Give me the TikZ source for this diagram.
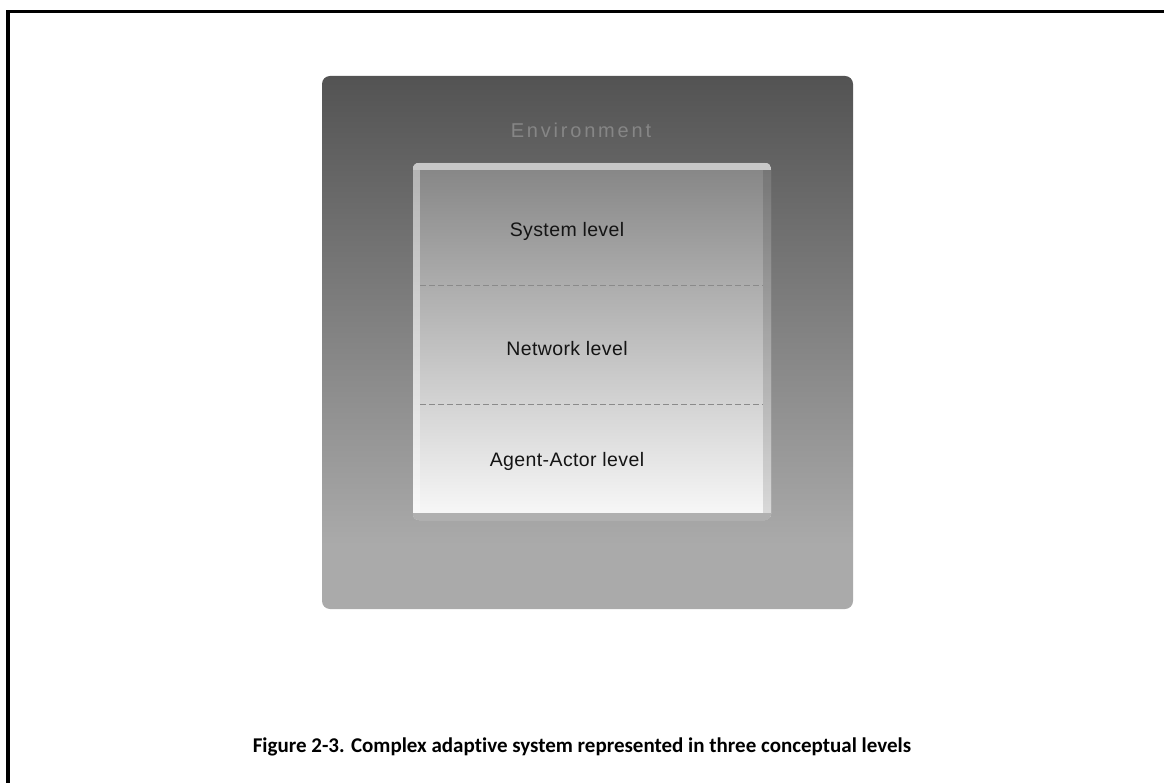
\documentclass[tikz,border=0pt]{standalone}
\usepackage{fontspec}
\setmainfont{Liberation Sans}
\newfontfamily\capfont[Ligatures=NoCommon]{Carlito}

\definecolor{envTop}{HTML}{535353}
\definecolor{envBot}{HTML}{AAAAAA}
\definecolor{lvlTop}{HTML}{858585}
\definecolor{lvlBot}{HTML}{F9F9F9}
\definecolor{envText}{HTML}{868686}
\definecolor{sepLine}{HTML}{8A8A8A}
\definecolor{topRim}{HTML}{C8C8C8}
\definecolor{botRim}{HTML}{B0B0B0}

% vertical shadings: 25bp = bottom edge of the path, 75bp = top edge
\pgfdeclareverticalshading{envshade}{100bp}{color(0bp)=(envBot); color(25bp)=(envBot); color(31bp)=(envBot); color(75bp)=(envTop); color(100bp)=(envTop)}
\pgfdeclareverticalshading{lvlshade}{100bp}{color(0bp)=(lvlBot); color(25bp)=(lvlBot); color(75bp)=(lvlTop); color(100bp)=(lvlTop)}

\tikzset{
  frameline/.style={line width=3.5pt, black},
  envbox/.style={rectangle, rounded corners=8pt, shading=envshade, draw=none,
    minimum width=531pt, minimum height=533pt, inner sep=0pt},
  lvlbox/.style={rectangle, rounded corners=6pt, shading=lvlshade, draw=none,
    minimum width=358pt, minimum height=357pt, inner sep=0pt},
  lvllabel/.style={font=\fontsize{19.5}{22}\selectfont\addfontfeature{LetterSpace=2}, text=black!92},
  envlabel/.style={font=\fontsize{20}{22}\selectfont\addfontfeature{LetterSpace=14}, text=envText},
  separator/.style={sepLine, line width=1pt, dash pattern=on 6pt off 3pt},
  caption/.style={font=\capfont\bfseries\fontsize{21}{24}\selectfont, text=black}
}

\begin{document}
\begin{tikzpicture}[x=1pt, y=-1pt]
  \useasboundingbox (0,0) rectangle (1164,783);

  % open frame: left and top rules
  \coordinate (fBL) at (8,783);
  \coordinate (fTL) at (8,11.5);
  \coordinate (fTR) at (1164,11.5);
  \draw[frameline] (fBL) -- (fTL) -- (fTR);

  % environment panel
  \node[envbox] (env) at (587.5,342.5) {};
  \node[envlabel] (envtxt) at (581,130) {Environment};

  % stacked levels panel
  \node[lvlbox] (levels) at (592,341.5) {};
  \begin{scope}
    \clip[rounded corners=6pt] (levels.north west) rectangle (levels.south east);
    % bevelled rims
    \fill[white, opacity=0.38] (levels.north west) rectangle ([xshift=7pt]levels.south west);
    \fill[black, opacity=0.12] ([xshift=-8pt]levels.north east) rectangle (levels.south east);
    \fill[topRim] (levels.north west) rectangle ([yshift=-7pt]levels.north east);
    \fill[botRim] ([yshift=7pt]levels.south west) rectangle (levels.south east);
  \end{scope}

  % level separators
  \coordinate (s1a) at (420,286);
  \coordinate (s1b) at (763,286);
  \coordinate (s2a) at (420,404);
  \coordinate (s2b) at (763,404);
  \draw[separator] (s1a) -- (s1b);
  \draw[separator] (s2a) -- (s2b);

  \node[lvllabel] (sys) at (567,231) {System level};
  \node[lvllabel] (net) at (567,349) {Network level};
  \node[lvllabel] (agent) at (567,461) {Agent-Actor level};

  \node[caption] (cap) at (582,747) {Figure 2-3. Complex adaptive system represented in three conceptual levels};
\end{tikzpicture}
\end{document}
